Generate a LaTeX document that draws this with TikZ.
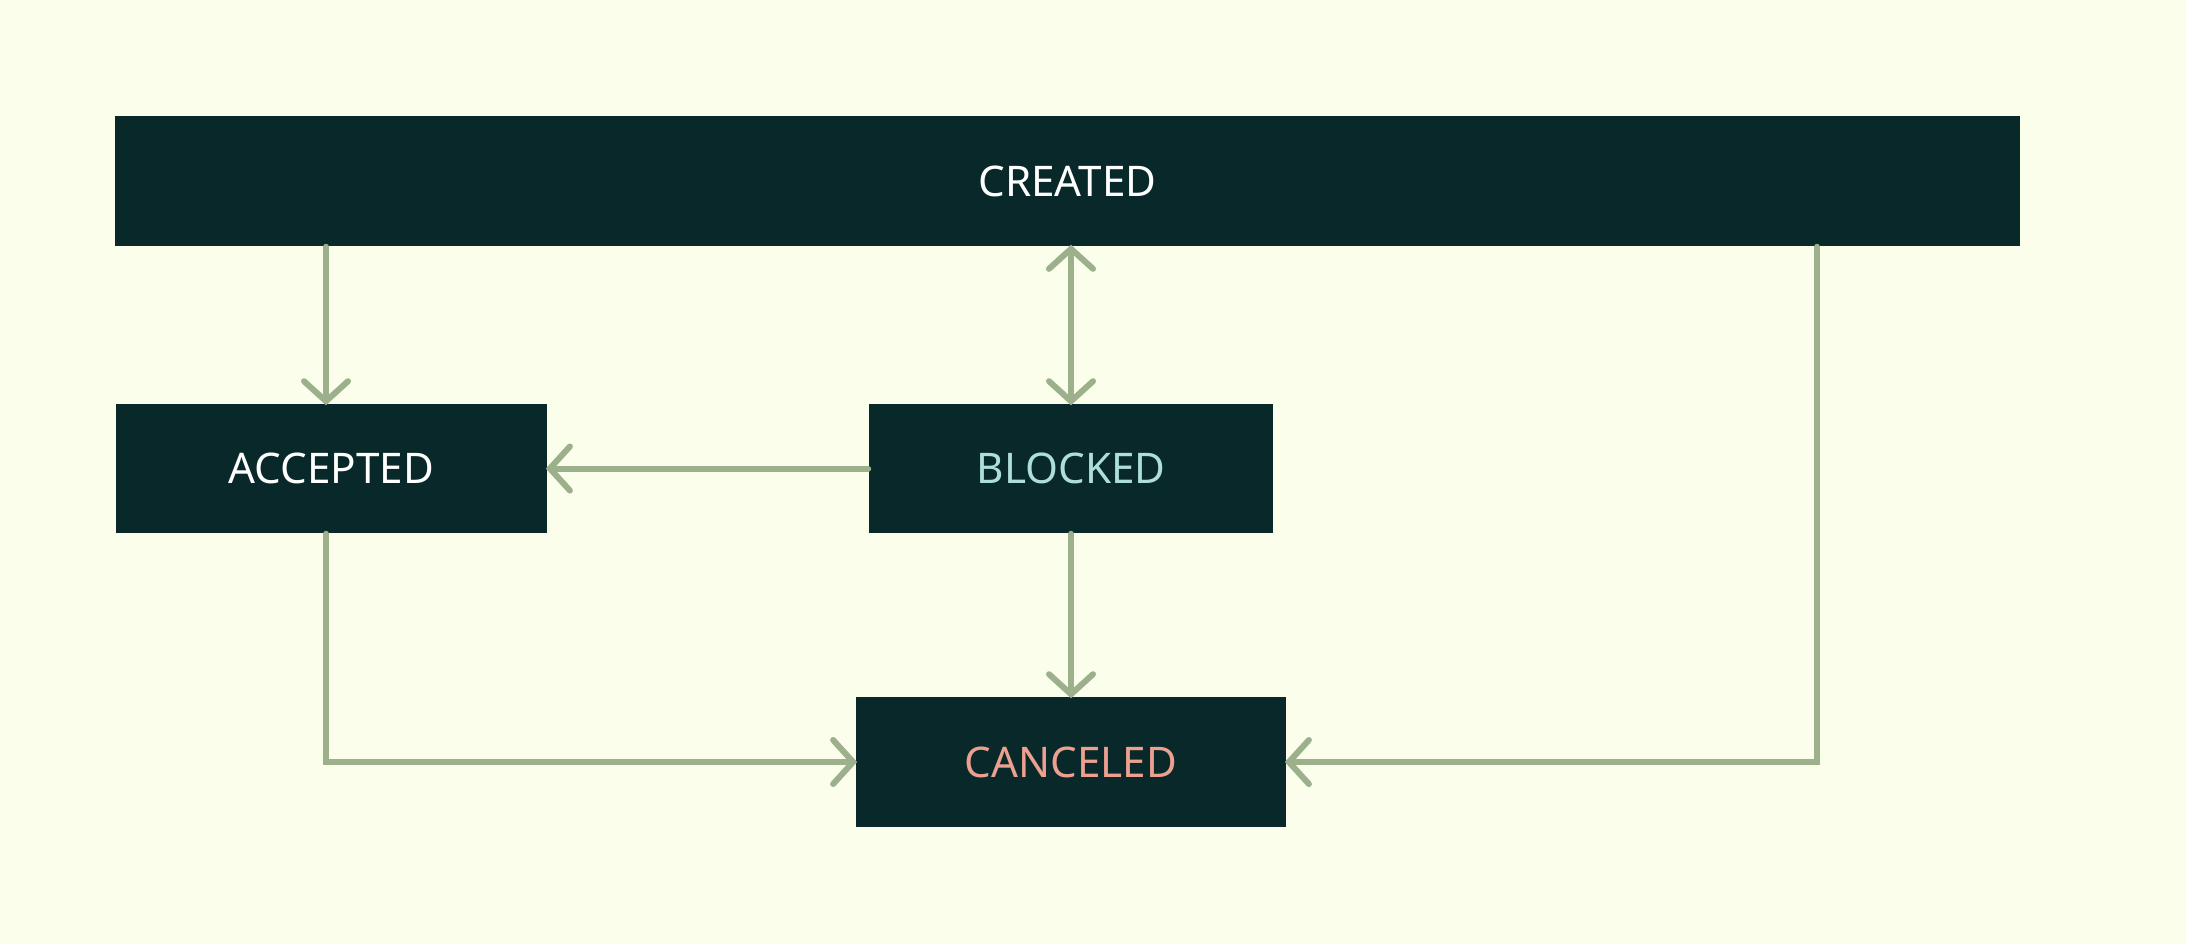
\documentclass[tikz,border=0pt]{standalone}
\usepackage{fontspec}
\setmainfont{Noto Sans}
\usetikzlibrary{arrows.meta,positioning}
\definecolor{paper}{RGB}{251,254,235}
\definecolor{boxfill}{RGB}{8,40,42}
\definecolor{wire}{RGB}{156,176,140}
\definecolor{lightcyan}{RGB}{174,222,216}
\definecolor{salmon}{RGB}{238,160,144}
\begin{document}
\begin{tikzpicture}[x=0.01cm,y=-0.01cm,
  state/.style={fill=boxfill,text=white,inner sep=0pt,font=\fontsize{12}{14}\selectfont},
  barb/.tip={Straight Barb[length=0.2cm,width=0.44cm,line cap=round]},
  link/.style={draw=wire,line width=0.06cm,line cap=round,-barb,shorten >=-0.02cm}]
  % page and background
  \fill[paper] (0,0) rectangle (2186,944);
  \useasboundingbox (0,0) rectangle (2186,944);
  % the four states
  \node[state,minimum width=19.03cm,minimum height=1.30cm] (created) at (1067.5,181) {CREATED};
  \node[state,minimum width=4.31cm,minimum height=1.29cm] (accepted) at (331.5,468.5) {ACCEPTED};
  \node[state,minimum width=4.04cm,minimum height=1.29cm,text=lightcyan] (blocked) at (1071,468.5) {BLOCKED};
  \node[state,minimum width=4.30cm,minimum height=1.30cm,text=salmon] (canceled) at (1071,762) {CANCELED};
  % corners of the elbow links
  \coordinate (acol) at (326,0);
  \coordinate (rcol) at (1817,0);
  % straight links
  \draw[link] (created.south -| acol) -- (accepted.north -| acol);
  \draw[link,barb-barb,shorten <=-0.02cm] (created.south -| blocked) -- (blocked.north);
  \draw[link] (blocked.west) -- (accepted.east);
  \draw[link] (blocked.south) -- (canceled.north);
  % elbow links into canceled
  \draw[link] (accepted.south -| acol) |- (canceled.west);
  \draw[link] (created.south -| rcol) |- (canceled.east);
\end{tikzpicture}
\end{document}
